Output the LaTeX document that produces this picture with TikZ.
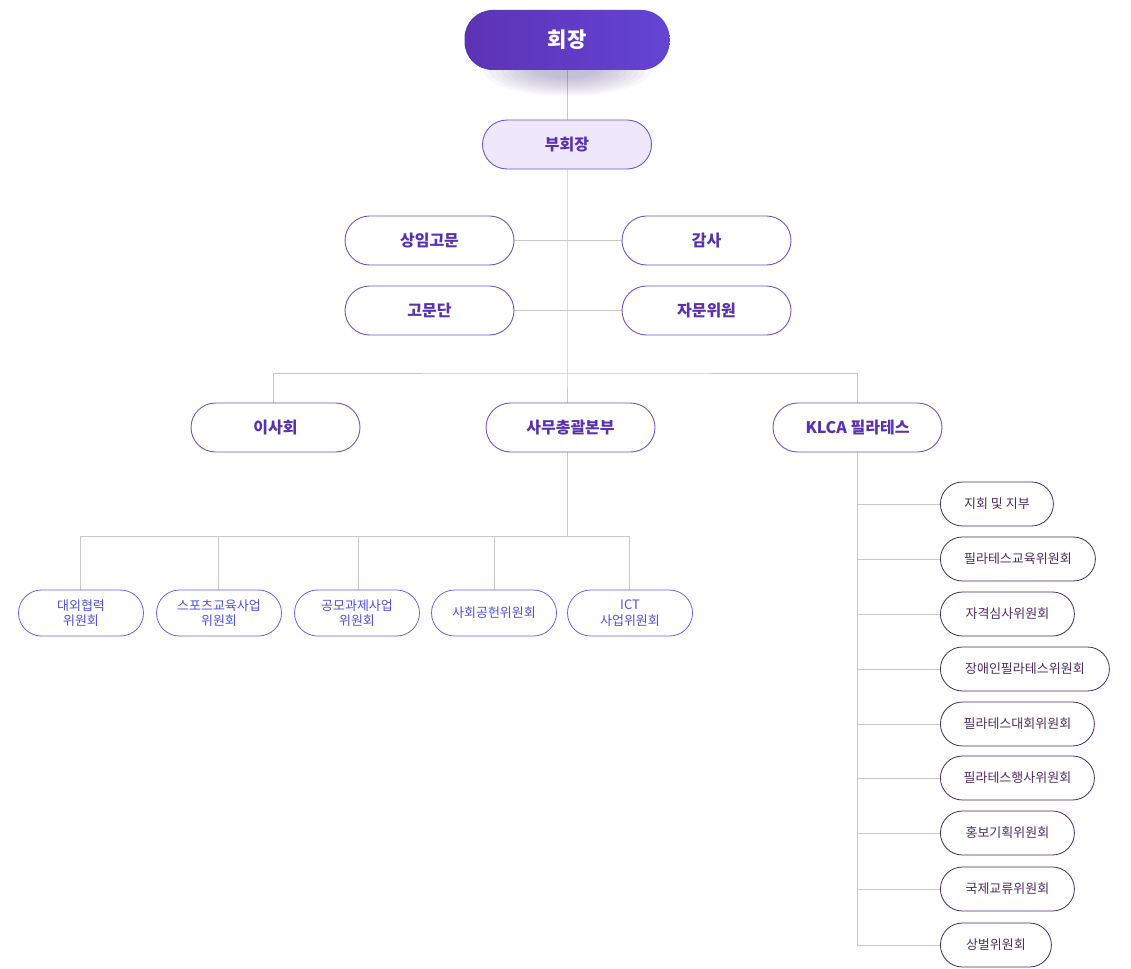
\documentclass[tikz,border=0pt]{standalone}
\usepackage{fontspec}
\setmainfont{Noto Sans CJK KR}
\usetikzlibrary{positioning, shapes.misc, backgrounds}

\definecolor{linegray}{HTML}{C8C8C8}
\definecolor{chairleft}{HTML}{5C33B5}
\definecolor{chairright}{HTML}{6444D4}
\definecolor{shadowcol}{HTML}{5A4A8C}
\definecolor{midline}{HTML}{7453CC}
\definecolor{midtext}{HTML}{5A32B0}
\definecolor{vicefill}{HTML}{EFE8FD}
\definecolor{subline}{HTML}{6464F0}
\definecolor{subtext}{HTML}{5050E4}
\definecolor{sideline}{HTML}{4B2A6B}
\definecolor{sidetext}{HTML}{4E2D62}

\begin{document}
\begin{tikzpicture}[x=1pt, y=-1pt,
        link/.style={draw=linegray, line width=0.9pt},
        chair/.style={rectangle, rounded corners=28pt, left color=chairleft, right color=chairright, text=white,
          minimum width=205pt, minimum height=60pt, inner sep=0pt,
          font=\fontsize{21}{24}\selectfont\bfseries},
        pill/.style={rounded rectangle, draw=midline, fill=white, line width=0.9pt, text=midtext,
          minimum width=169pt, minimum height=49pt, inner sep=0pt,
          font=\fontsize{16}{19}\selectfont\bfseries},
        subpill/.style={rounded rectangle, draw=subline, fill=white, line width=0.8pt, text=subtext,
          minimum width=125pt, minimum height=46pt, inner sep=0pt, align=center,
          font=\fontsize{13}{15.5}\selectfont},
        sidepill/.style={rounded rectangle, draw=sideline, fill=white, line width=0.8pt, text=sidetext,
          minimum height=44pt, inner sep=0pt, anchor=west,
          font=\fontsize{13}{15.5}\selectfont},
      ]
        \useasboundingbox (0,0) rectangle (1131,968);

        % soft shadow under the chair
        \foreach \k in {0,...,9} {
          \fill[shadowcol, opacity=0.045] (567,70) ellipse ({84-\k*6} and {26-\k*2});
        }

        % top
        \node[chair] (chair) at (567,40) {회장};
        \node[pill, fill=vicefill] (vice) at (567,144.5) {부회장};

        % advisors
        \node[pill] (sangim) at (429.5,240.5) {상임고문};
        \node[pill] (gamsa) at (706.5,240.5) {감사};
        \node[pill] (gomun) at (429.5,310.5) {고문단};
        \node[pill] (jamun) at (706.5,310.5) {자문위원};

        % second level
        \node[pill] (board) at (275.5,427.5) {이사회};
        \node[pill] (hq) at (570.5,427.5) {사무총괄본부};
        \node[pill] (klca) at (857.5,427.5) {KLCA 필라테스};

        % committees under hq
        \foreach \i/\x/\txt in {0/81/대외협력\\위원회, 1/219/스포츠교육사업\\위원회, 2/357/공모과제사업\\위원회,
            3/494/사회공헌위원회, 4/630/ICT\\사업위원회} {
          \node[subpill] (com\i) at (\x,613) {\txt};
        }

        % committees under klca
        \foreach \i/\y/\w/\txt in {0/504/113/지회 및 지부, 1/559/155/필라테스교육위원회, 2/614/134/자격심사위원회,
            3/669/169/장애인필라테스위원회, 4/724/154/필라테스대회위원회, 5/778/154/필라테스행사위원회,
            6/833/134/홍보기획위원회, 7/889/134/국제교류위원회, 8/945/111/상벌위원회} {
          \node[sidepill, minimum width=\w pt] (side\i) at (940,\y) {\txt};
        }

        % connectors
        \coordinate (bar) at (567,373);
        \coordinate (subbar) at (567,536);
        \begin{scope}[on background layer]
          \draw[link] (chair.south -| vice.north) -- (vice.north);
          \draw[link] (vice.south) -- (bar) -- (bar |- hq.north);
          \draw[link] (sangim.east) -- (gamsa.west);
          \draw[link] (gomun.east) -- (jamun.west);
          \draw[link] (273,0 |- board.north) |- (bar) -| (857,0 |- klca.north);
          \draw[link] (subbar |- hq.south) -- (subbar);
          \foreach \i/\x in {0/80, 1/218, 2/358, 3/494, 4/629} {
            \draw[link] (\x,0 |- com\i.north) |- (subbar);
          }
          \foreach \i in {0,...,8} {
            \draw[link] (857,0 |- klca.south) |- (side\i.west);
          }
        \end{scope}
      \end{tikzpicture}
\end{document}
